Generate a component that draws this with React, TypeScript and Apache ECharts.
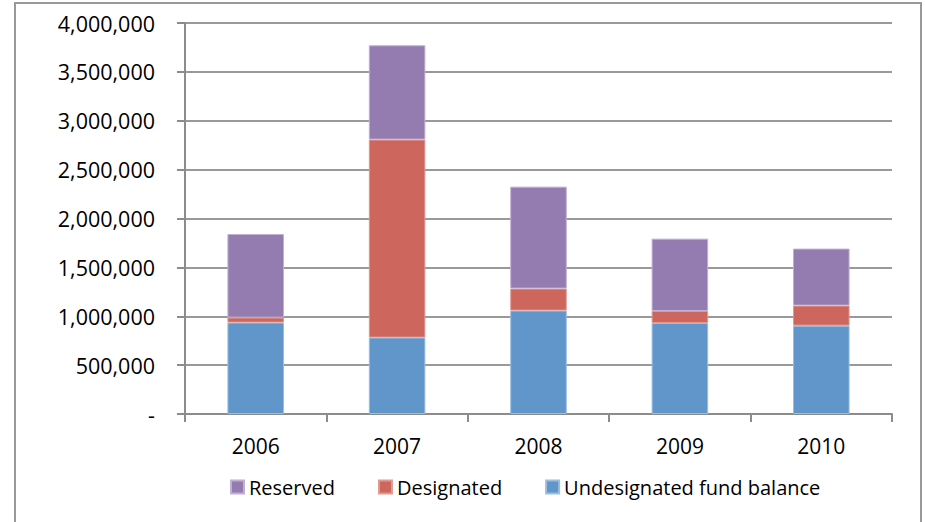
import React, { useEffect, useRef } from "react";
import * as echarts from "echarts";

const years = ["2006", "2007", "2008", "2009", "2010"];
const undesignated = [935000, 782000, 1058000, 931000, 904000];
const designated = [51000, 2025000, 225000, 123000, 205000];
const reserved = [855000, 965000, 1043000, 740000, 583000];
const legendOrder = ["Reserved", "Designated", "Undesignated fund balance"];

const FONT = "Open Sans";

export default function App() {
  const ref = useRef<HTMLDivElement>(null);
  useEffect(() => {
    if (!ref.current) return;
    const chart = echarts.init(ref.current, null, { renderer: "svg" });
    chart.setOption({
      animation: false,
      backgroundColor: "#ffffff",
      textStyle: { fontFamily: FONT },
      graphic: [
        {
          type: "rect",
          shape: { x: 15, y: 3, width: 906, height: 540 },
          style: { fill: "none", stroke: "#999999", lineWidth: 2 },
          silent: true,
        },
      ],
      grid: { left: 185, right: 33, top: 23, bottom: 108, containLabel: false },
      legend: {
        data: legendOrder,
        bottom: 20,
        left: 225,
        itemWidth: 13,
        itemHeight: 13,
        itemGap: 43,
        icon: "rect",
        textStyle: { fontFamily: FONT, fontSize: 20, color: "#000" },
      },
      xAxis: {
        type: "category",
        data: years,
        axisLine: { lineStyle: { color: "#8c8c8c", width: 2 } },
        axisTick: { show: true, length: 8, lineStyle: { color: "#8c8c8c", width: 2 } },
        axisLabel: { fontFamily: FONT, fontSize: 21, color: "#000", margin: 21 },
      },
      yAxis: {
        type: "value",
        min: 0,
        max: 4000000,
        interval: 500000,
        axisLine: { show: true, lineStyle: { color: "#8c8c8c", width: 2 } },
        axisTick: { show: true, length: 8, lineStyle: { color: "#8c8c8c", width: 2 } },
        splitLine: { lineStyle: { color: "#999999", width: 2 } },
        axisLabel: {
          fontFamily: FONT,
          fontSize: 21.5,
          color: "#000",
          margin: 30,
          formatter: (v: number) => (v === 0 ? "-" : v.toLocaleString("en-US")),
        },
      },
      series: [
        {
          name: "Undesignated fund balance",
          type: "bar",
          stack: "total",
          data: undesignated,
          barWidth: "40%",
          itemStyle: { color: "#6096c9", borderColor: "#9bbde0", borderWidth: 1 },
        },
        {
          name: "Designated",
          type: "bar",
          stack: "total",
          data: designated,
          itemStyle: { color: "#cd665d", borderColor: "#e09a93", borderWidth: 1 },
        },
        {
          name: "Reserved",
          type: "bar",
          stack: "total",
          data: reserved,
          itemStyle: { color: "#947bb0", borderColor: "#c0b0d4", borderWidth: 1 },
        },
      ],
    });
    return () => chart.dispose();
  }, []);
  return (
    <div
      ref={ref}
      style={{ position: "fixed", left: 0, top: 0, width: 925, height: 522 }}
    />
  );
}
